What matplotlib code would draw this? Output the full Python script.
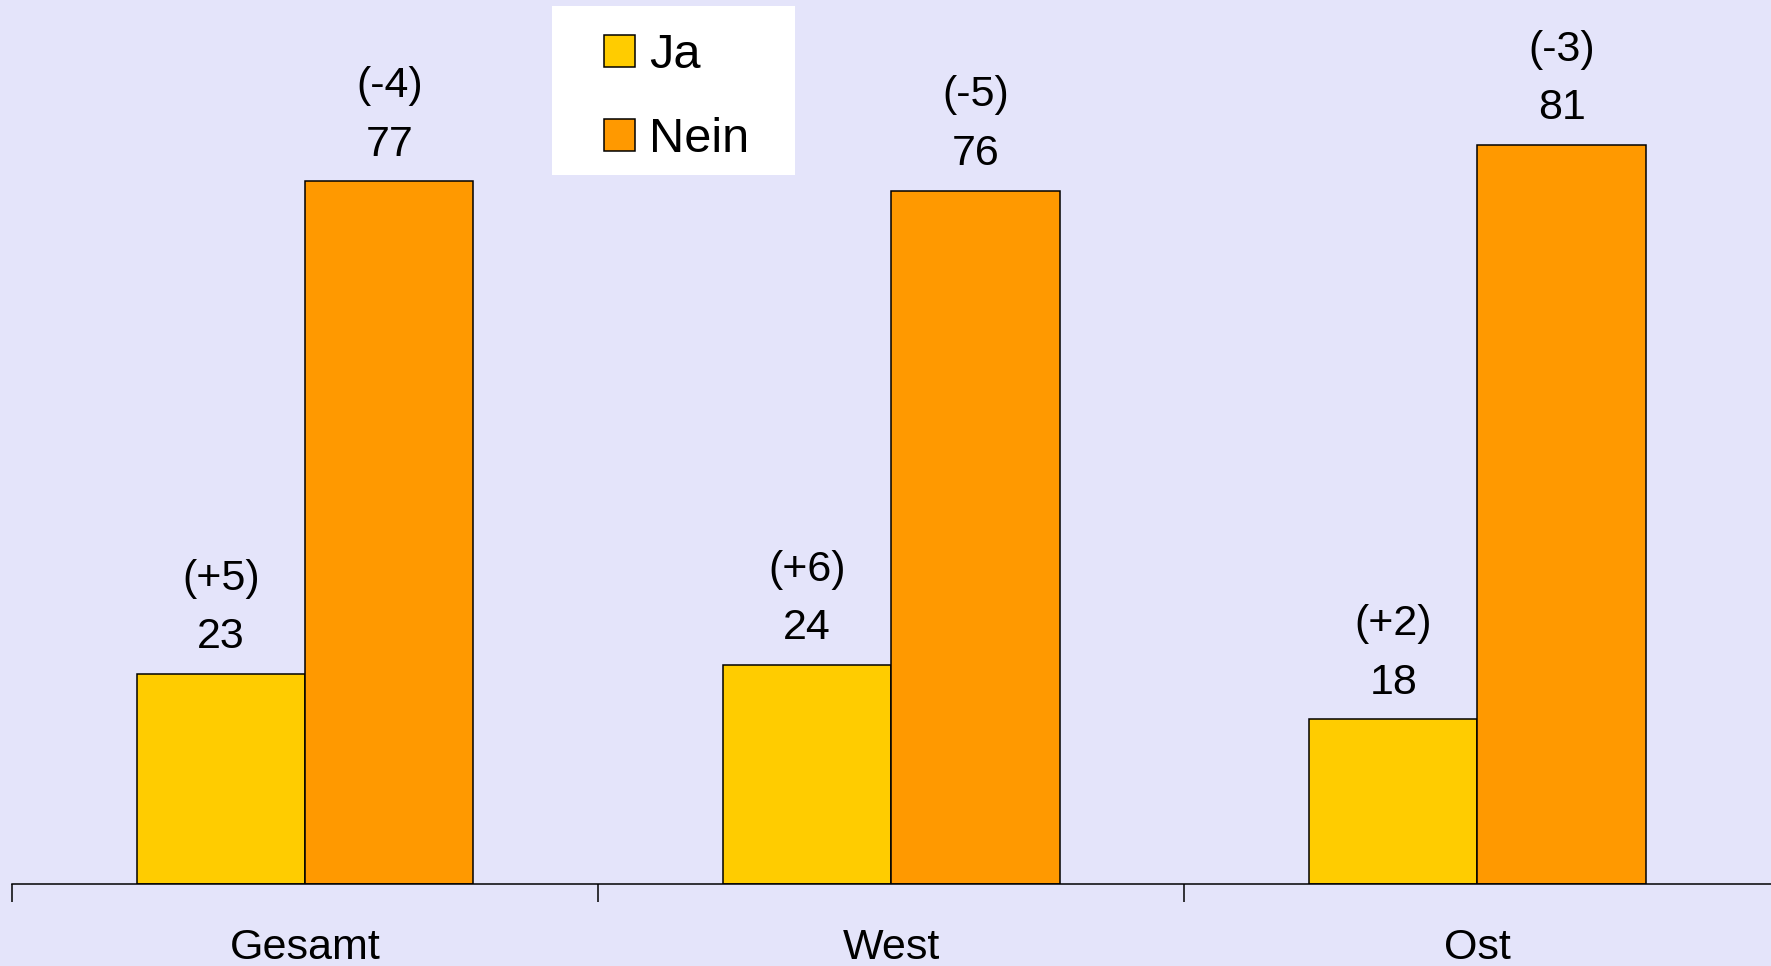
import numpy as np
import matplotlib.pyplot as plt
from matplotlib.patches import Rectangle

plt.rcParams["font.family"] = ["Liberation Sans", "DejaVu Sans"]

categories = ["Gesamt", "West", "Ost"]
ja_values = [23, 24, 18]
nein_values = [77, 76, 81]
ja_changes = ["(+5)", "(+6)", "(+2)"]
nein_changes = ["(-4)", "(-5)", "(-3)"]

bg = "#E4E4FA"
ja_color = "#FFCC00"
nein_color = "#FF9900"

W, H = 1771, 966
fig = plt.figure(figsize=(W / 100, H / 100), dpi=100, facecolor=bg)
ax = fig.add_axes([12 / W, 82.5 / H, 1758.6 / W, 883.5 / H])
ax.set_facecolor(bg)

x = np.arange(len(categories))
w = 0.287

bars_ja = ax.bar(x - w / 2, ja_values, w, color=ja_color, edgecolor="black",
                 linewidth=1.1, label="Ja")
bars_nein = ax.bar(x + w / 2, nein_values, w, color=nein_color, edgecolor="black",
                   linewidth=1.1, label="Nein")

for bars, vals, chg in [(bars_ja, ja_values, ja_changes), (bars_nein, nein_values, nein_changes)]:
    for b, v, c in zip(bars, vals, chg):
        cx = b.get_x() + b.get_width() / 2
        ax.annotate(str(v), (cx, v), xytext=(0, 26.5), textcoords="offset points",
                    ha="center", va="center", fontsize=31)
        ax.annotate(c, (cx, v), xytext=(0, 68.5), textcoords="offset points",
                    ha="center", va="center", fontsize=31)

ax.set_xlim(-0.5, 2.5)
ax.set_ylim(0, 96.9)

for s in ["top", "left", "right"]:
    ax.spines[s].set_visible(False)
ax.spines["bottom"].set_linewidth(1.1)
ax.set_yticks([])

ax.set_xticks(x)
ax.set_xticklabels(categories, fontsize=31)
ax.tick_params(axis="x", which="major", length=0, pad=32)
ax.set_xticks([-0.5, 0.5, 1.5], minor=True)
ax.tick_params(axis="x", which="minor", length=13, width=1.1, direction="out")

# white legend box
fig.patches.append(Rectangle((552 / W, 1 - 175 / H), 243 / W, 169 / H,
                             transform=fig.transFigure, facecolor="white",
                             edgecolor="none", zorder=5))
leg = fig.legend(handles=[bars_ja, bars_nein], labels=["Ja", "Nein"],
                 loc="upper left", bbox_to_anchor=(604 / W, 1 - 33 / H),
                 fontsize=35, frameon=False,
                 handlelength=0.63, handleheight=0.63, handletextpad=0.3,
                 labelspacing=0.81, borderpad=0, borderaxespad=0)
leg.set_zorder(6)

fig.savefig("out.png", dpi=100, facecolor=bg)
